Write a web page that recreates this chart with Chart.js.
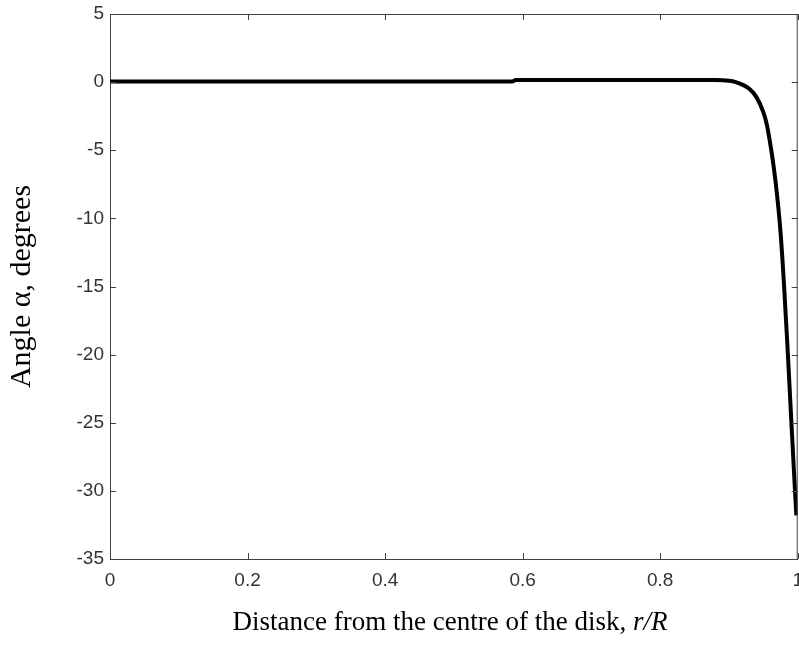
<!DOCTYPE html>
<html>
<head>
<meta charset="utf-8">
<script src="https://cdn.jsdelivr.net/npm/chart.js@4/dist/chart.umd.min.js"></script>
<style>
  html, body { margin: 0; padding: 0; background: #fff; overflow: hidden; }
  #wrap { position: relative; width: 799px; height: 647px; overflow: hidden; }
  #box { position: absolute; left: 0; top: 0; width: 813px; height: 647px; }
</style>
</head>
<body>
<div id="wrap"><div id="box"><canvas id="grafica"></canvas></div></div>
<script>
// r/R values and the angle
const radius = [0, 0.1, 0.2, 0.3, 0.4, 0.5, 0.585, 0.59, 0.7, 0.8, 0.88, 0.9, 0.91, 0.92, 0.93, 0.94, 0.95, 0.955, 0.96, 0.965, 0.97, 0.975, 0.98, 0.985, 0.99, 0.995, 0.998];
const angle = [0.05, 0.05, 0.05, 0.05, 0.05, 0.05, 0.05, 0.15, 0.15, 0.15, 0.15, 0.1, 0.0, -0.2, -0.5, -1.1, -2.2, -3.1, -4.5, -6.2, -8.3, -11.0, -14.8, -19.3, -24.2, -29.0, -31.8];
const xTicks = [0, 0.2, 0.4, 0.6, 0.8, 1];
const yTicks = [5, 0, -5, -10, -15, -20, -25, -30, -35];

const xTitle = ['Distance from the centre of the disk, ', 'r/R'];
const yTitle = 'Angle \u03b1, degrees';

// MATLAB style box with inward ticks, plus the mixed-style x title
const boxPlugin = {
  id: 'box',
  afterDraw(chart) {
    const c = chart.ctx, a = chart.chartArea;
    const xs = chart.scales.x, ys = chart.scales.y;
    c.save();
    c.strokeStyle = '#404040';
    c.lineWidth = 1;
    c.beginPath();
    c.moveTo(a.left, a.top + 0.5); c.lineTo(a.right, a.top + 0.5);
    c.moveTo(a.right - 0.5, a.top); c.lineTo(a.right - 0.5, a.bottom);
    xTicks.forEach(v => {
      const px = Math.round(xs.getPixelForValue(v)) + 0.5;
      c.moveTo(px, a.bottom); c.lineTo(px, a.bottom - 6);
      c.moveTo(px, a.top); c.lineTo(px, a.top + 6);
    });
    yTicks.forEach(v => {
      const py = Math.round(ys.getPixelForValue(v)) + 0.5;
      c.moveTo(a.left, py); c.lineTo(a.left + 6, py);
      c.moveTo(a.right, py); c.lineTo(a.right - 6, py);
    });
    c.stroke();

    // x axis title
    c.fillStyle = '#000';
    c.textBaseline = 'alphabetic';
    c.font = '27px "Liberation Serif"';
    const w1 = c.measureText(xTitle[0]).width;
    c.font = 'italic 27px "Liberation Serif"';
    const w2 = c.measureText(xTitle[1]).width;
    let x0 = 450 - (w1 + w2) / 2;
    c.font = '27px "Liberation Serif"';
    c.fillText(xTitle[0], x0, 630);
    c.font = 'italic 27px "Liberation Serif"';
    c.fillText(xTitle[1], x0 + w1, 630);
    c.restore();
  }
};

const micanvas = document.getElementById('grafica').getContext('2d');
const chart = new Chart(micanvas, {
  type: 'line',
  data: {
    datasets: [{
      data: radius.map((r, i) => ({ x: r, y: angle[i] })),
      borderColor: '#000',
      borderWidth: 4,
      pointRadius: 0,
      cubicInterpolationMode: 'monotone',
      fill: false
    }]
  },
  options: {
    responsive: true,
    maintainAspectRatio: false,
    animation: false,
    layout: { padding: { left: 0, top: 14, right: 12, bottom: 0 } },
    plugins: { legend: { display: false }, tooltip: { enabled: false } },
    scales: {
      x: {
        type: 'linear',
        min: 0, max: 1,
        afterBuildTicks: s => { s.ticks = xTicks.map(v => ({ value: v })); },
        afterFit: s => { s.height = 88; },
        grid: { display: false, drawTicks: false },
        border: { display: true, color: '#404040', width: 1 },
        ticks: {
          padding: 10,
          color: '#333',
          font: { family: 'Liberation Sans', size: 19 },
          maxRotation: 0,
          callback: v => String(v)
        }
      },
      y: {
        min: -35, max: 5,
        afterBuildTicks: s => { s.ticks = yTicks.map(v => ({ value: v })); },
        afterFit: s => { s.width = 110; s.paddingTop = 0; s.paddingBottom = 0; },
        grid: { display: false, drawTicks: false },
        border: { display: true, color: '#404040', width: 1 },
        ticks: {
          padding: 6,
          color: '#333',
          font: { family: 'Liberation Sans', size: 19 },
          callback: v => String(v)
        },
        title: {
          display: true,
          text: yTitle,
          color: '#000',
          font: { family: 'Liberation Serif', size: 30 },
          padding: { top: 4, bottom: 0 }
        }
      }
    }
  },
  plugins: [boxPlugin]
});
</script>
</body>
</html>
